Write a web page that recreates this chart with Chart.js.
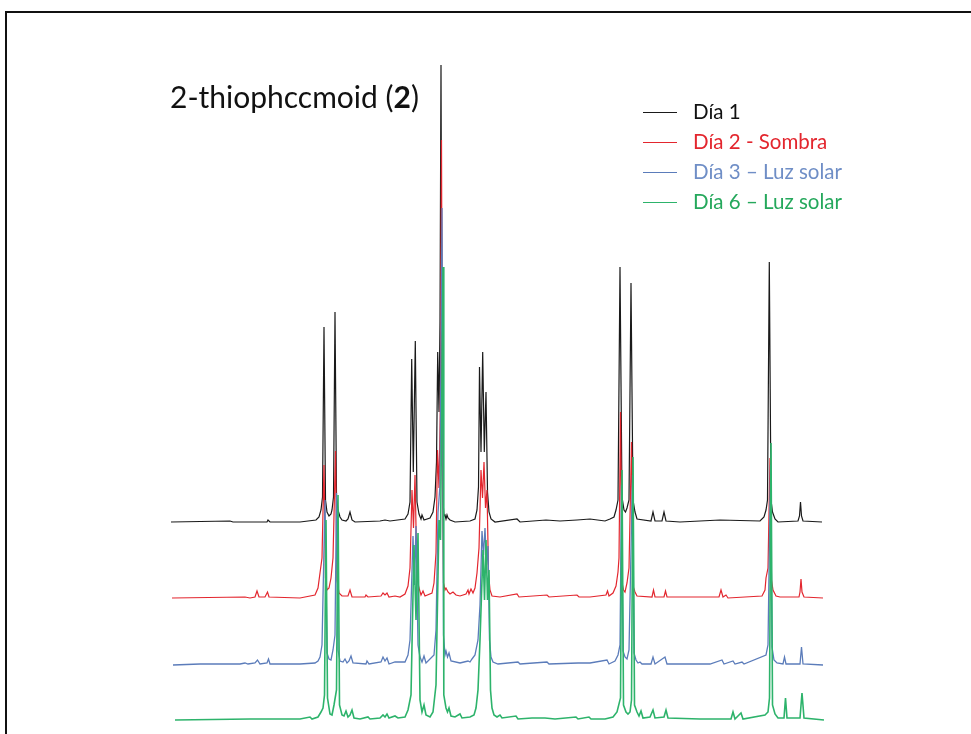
<!DOCTYPE html>
<html>
<head>
<meta charset="utf-8">
<script src="https://cdn.jsdelivr.net/npm/chart.js@4.4.1/dist/chart.umd.min.js"></script>
<style>
  html, body { margin: 0; padding: 0; background: #fff; }
  #wrap { position: relative; width: 971px; height: 734px; overflow: hidden; background: #fff; }
  #frame { position: absolute; left: 5px; top: 11px; width: 1000px; height: 1000px;
           border-top: 2px solid #111; border-left: 2px solid #111; box-sizing: border-box; }
  #c { position: absolute; left: 0; top: 0; }
  #title { position: absolute; left: 170px; top: 79px; font-family: Lato, "Open Sans", sans-serif;
           font-size: 30px; color: #111; white-space: nowrap; line-height: 34px; }
  #legend { position: absolute; left: 643px; top: 96px; font-family: Lato, "Open Sans", sans-serif;
            font-size: 20.5px; white-space: nowrap; }
  .row { height: 30px; line-height: 30px; position: relative; }
  .sw { position: absolute; left: 0; top: 16px; width: 34px; height: 1px; }
  .tx { position: absolute; left: 50px; top: 0; }
</style>
</head>
<body>
<div id="wrap">
  <div id="frame"></div>
  <canvas id="c" width="971" height="734"></canvas>
  <div id="title">2-thiophccmoid (<b>2</b>)</div>
  <div id="legend"></div>
</div>
<script>
// Series names and colours
const seriesNames = ["Día 1", "Día 2 - Sombra", "Día 3 – Luz solar", "Día 6 – Luz solar"];
const lineColors  = ["#1a1a1a", "#e3262e", "#5b7cba", "#2db36b"];
const textColors  = ["#111111", "#e3262e", "#6f8ec6", "#25a85c"];

// Spectra: [chemical shift (ppm), intensity (a.u.)]
const dia1 = [
 [7.29,0],[6.70,1],[6.67,0],[6.33,0],[6.32,2],[6.30,0],[6.00,0],[5.84,2],[5.81,5],[5.79,12],
 [5.775,25],[5.76,195],[5.745,22],[5.73,10],[5.71,6],[5.69,8],[5.68,12],[5.665,25],[5.65,210],[5.635,25],
 [5.62,12],[5.60,5],[5.58,2],[5.54,1],[5.52,3],[5.50,10],[5.48,2],[5.45,0],[5.20,1],[5.15,2],
 [5.10,1],[4.95,3],[4.92,8],[4.90,20],[4.883,163],[4.867,50],[4.847,181],[4.83,20],[4.81,8],[4.79,3],
 [4.78,7],[4.76,2],[4.70,4],[4.67,10],[4.65,25],[4.635,60],[4.623,170],[4.61,110],[4.60,200],[4.59,457],
 [4.58,120],[4.57,20],[4.56,6],[4.55,7],[4.54,3],[4.53,7],[4.52,4],[4.50,2],[4.45,0],[4.30,1],
 [4.25,3],[4.23,12],[4.215,35],[4.205,155],[4.19,70],[4.173,170],[4.157,70],[4.14,130],[4.125,30],[4.11,10],
 [4.09,3],[4.05,0],[3.83,3],[3.80,0],[3.54,2],[3.40,1],[3.23,2],[3.10,3],[2.95,1],[2.90,3],
 [2.86,5],[2.84,12],[2.82,22],[2.80,255],[2.78,25],[2.76,12],[2.745,10],[2.73,14],[2.71,22],[2.69,239],
 [2.67,22],[2.65,10],[2.63,3],[2.49,1],[2.47,10],[2.45,1],[2.38,1],[2.36,10],[2.34,1],[2.20,0],
 [1.80,2],[1.40,1],[1.36,5],[1.34,12],[1.325,22],[1.307,260],[1.29,22],[1.275,10],[1.25,3],[1.22,0],
 [1.02,1],[1.005,6],[0.995,20],[0.985,6],[0.97,1],[0.78,0]
];
const dia2 = [
 [7.28,0],[6.55,1],[6.50,0],[6.45,1],[6.43,7],[6.41,1],[6.35,1],[6.325,6],[6.31,1],[6.00,0],
 [5.85,3],[5.82,10],[5.80,25],[5.78,40],[5.76,133],[5.745,20],[5.73,8],[5.71,10],[5.69,20],[5.67,40],
 [5.645,147],[5.63,18],[5.61,5],[5.58,2],[5.52,2],[5.50,8],[5.48,1],[5.35,1],[5.34,3],[5.32,1],
 [5.19,2],[5.17,5],[5.15,3],[5.13,5],[5.11,1],[5.05,2],[5.00,1],[4.95,4],[4.92,12],[4.90,30],
 [4.88,108],[4.865,70],[4.85,123],[4.83,20],[4.81,10],[4.79,3],[4.77,7],[4.75,2],[4.68,5],[4.66,15],
 [4.64,45],[4.625,148],[4.61,110],[4.595,200],[4.585,458],[4.575,120],[4.565,15],[4.55,8],[4.54,10],[4.52,6],
 [4.50,4],[4.47,6],[4.44,3],[4.40,2],[4.34,4],[4.32,8],[4.31,4],[4.29,9],[4.27,5],[4.25,10],
 [4.23,25],[4.21,50],[4.19,128],[4.175,100],[4.16,136],[4.145,90],[4.13,108],[4.115,25],[4.10,8],[4.08,2],
 [4.00,1],[3.83,4],[3.81,1],[3.53,3],[3.51,1],[3.23,3],[3.21,1],[3.10,1],[2.94,3],[2.925,7],
 [2.91,2],[2.87,5],[2.84,12],[2.82,26],[2.81,40],[2.795,186],[2.78,15],[2.765,8],[2.75,6],[2.73,15],
 [2.71,30],[2.685,156],[2.67,12],[2.65,6],[2.63,2],[2.48,1],[2.465,8],[2.45,1],[2.36,1],[2.345,7],
 [2.33,1],[2.20,1],[2.00,1],[1.81,1],[1.79,8],[1.77,1],[1.74,3],[1.72,0],[1.38,2],[1.35,8],
 [1.34,20],[1.32,30],[1.30,140],[1.285,18],[1.27,8],[1.24,2],[1.20,1],[1.01,1],[1.00,6],[0.99,19],
 [0.98,6],[0.96,1],[0.77,0]
];
const dia3 = [
 [7.27,0],[7.00,1],[6.60,1],[6.55,2],[6.52,1],[6.45,2],[6.425,5],[6.40,1],[6.33,2],[6.315,6],
 [6.30,1],[6.00,1],[5.85,2],[5.82,4],[5.80,8],[5.78,20],[5.75,165],[5.73,12],[5.71,6],[5.69,5],
 [5.67,15],[5.65,30],[5.635,172],[5.62,15],[5.60,4],[5.57,3],[5.55,6],[5.53,2],[5.51,4],[5.49,9],
 [5.47,2],[5.34,1],[5.33,4],[5.31,1],[5.19,3],[5.17,8],[5.15,4],[5.13,7],[5.11,1],[5.05,3],
 [4.95,3],[4.92,10],[4.90,25],[4.87,129],[4.855,80],[4.84,139],[4.82,20],[4.80,8],[4.78,3],[4.76,9],
 [4.74,2],[4.66,10],[4.64,35],[4.62,152],[4.60,180],[4.58,457],[4.565,30],[4.55,10],[4.54,14],[4.525,8],
 [4.51,12],[4.49,4],[4.40,2],[4.32,4],[4.30,3],[4.28,6],[4.25,10],[4.22,25],[4.20,60],[4.18,134],
 [4.165,110],[4.15,137],[4.135,100],[4.12,119],[4.105,25],[4.09,8],[4.07,3],[4.02,1],[3.82,3],[3.80,1],
 [3.53,3],[3.51,1],[3.22,2],[3.10,2],[2.93,5],[2.91,1],[2.85,4],[2.82,10],[2.80,20],[2.785,180],
 [2.77,14],[2.75,8],[2.73,6],[2.71,15],[2.675,190],[2.66,12],[2.64,5],[2.62,2],[2.60,3],[2.58,1],
 [2.49,1],[2.47,8],[2.45,1],[2.35,8],[2.33,1],[2.00,1],[1.90,1],[1.78,5],[1.76,1],[1.67,4],
 [1.65,1],[1.58,3],[1.56,1],[1.34,10],[1.32,20],[1.295,200],[1.28,18],[1.26,5],[1.23,2],[1.17,1],
 [1.155,8],[1.14,1],[1.00,1],[0.985,18],[0.97,1],[0.77,0]
];
const dia6 = [
 [7.25,0],[6.50,1],[6.00,1],[5.90,3],[5.88,1],[5.82,3],[5.79,8],[5.77,12],[5.755,25],[5.74,200],
 [5.725,22],[5.70,6],[5.68,5],[5.66,15],[5.635,30],[5.62,225],[5.605,15],[5.58,5],[5.56,4],[5.54,9],
 [5.52,3],[5.50,5],[5.48,10],[5.46,2],[5.40,1],[5.32,3],[5.30,1],[5.20,2],[5.17,5],[5.15,3],
 [5.13,6],[5.11,2],[5.05,4],[5.02,2],[4.95,3],[4.92,10],[4.89,25],[4.86,175],[4.84,100],[4.82,187],
 [4.80,20],[4.78,8],[4.76,15],[4.74,5],[4.70,3],[4.67,8],[4.64,35],[4.61,200],[4.595,180],[4.57,453],
 [4.562,25],[4.54,12],[4.525,8],[4.51,12],[4.49,4],[4.45,3],[4.40,6],[4.38,2],[4.30,3],[4.26,5],
 [4.24,12],[4.22,30],[4.20,80],[4.17,170],[4.155,120],[4.14,180],[4.125,120],[4.11,150],[4.095,30],[4.08,12],
 [4.06,5],[4.03,3],[4.00,5],[3.98,2],[3.84,4],[3.82,1],[3.68,2],[3.55,2],[3.45,1],[3.24,3],
 [3.22,1],[3.11,3],[3.09,1],[2.95,1],[2.87,3],[2.83,8],[2.795,22],[2.78,250],[2.765,15],[2.74,8],
 [2.72,6],[2.70,8],[2.685,20],[2.67,263],[2.655,15],[2.63,8],[2.61,4],[2.59,9],[2.57,2],[2.50,3],
 [2.47,10],[2.45,2],[2.36,3],[2.34,10],[2.32,2],[2.00,1],[1.80,1],[1.69,1],[1.67,8],[1.65,1],
 [1.59,7],[1.57,1],[1.35,5],[1.32,8],[1.305,22],[1.29,277],[1.275,15],[1.25,6],[1.22,2],[1.16,2],
 [1.145,22],[1.13,2],[1.00,2],[0.98,27],[0.96,2],[0.76,0]
];

const spectra = [dia1, dia2, dia3, dia6];
// vertical stacking offsets of each trace (a.u.)
const stackOffset = [212, 136, 69, 14];
const lineWidths = [1.2, 1.2, 1.3, 1.6];

const datasets = spectra.map((s, i) => ({
  label: seriesNames[i],
  data: s.map(p => ({ x: p[0], y: p[1] + stackOffset[i] })),
  borderColor: lineColors[i],
  borderWidth: lineWidths[i],
  pointRadius: 0,
  tension: 0,
  fill: false,
  order: 3 - i
}));

new Chart(document.getElementById('c'), {
  type: 'line',
  data: { datasets },
  options: {
    responsive: false,
    animation: false,
    devicePixelRatio: 1,
    layout: { padding: 0 },
    plugins: { legend: { display: false }, tooltip: { enabled: false }, title: { display: false } },
    scales: {
      x: { type: 'linear', reverse: true, min: -0.71, max: 9, display: false },
      y: { type: 'linear', min: 0, max: 734, display: false }
    }
  }
});

// HTML legend built from the series arrays
const lg = document.getElementById('legend');
seriesNames.forEach((n, i) => {
  const r = document.createElement('div'); r.className = 'row';
  const sw = document.createElement('div'); sw.className = 'sw'; sw.style.background = lineColors[i];
  const t = document.createElement('div'); t.className = 'tx'; t.style.color = textColors[i]; t.textContent = n;
  r.appendChild(sw); r.appendChild(t); lg.appendChild(r);
});
</script>
</body>
</html>
